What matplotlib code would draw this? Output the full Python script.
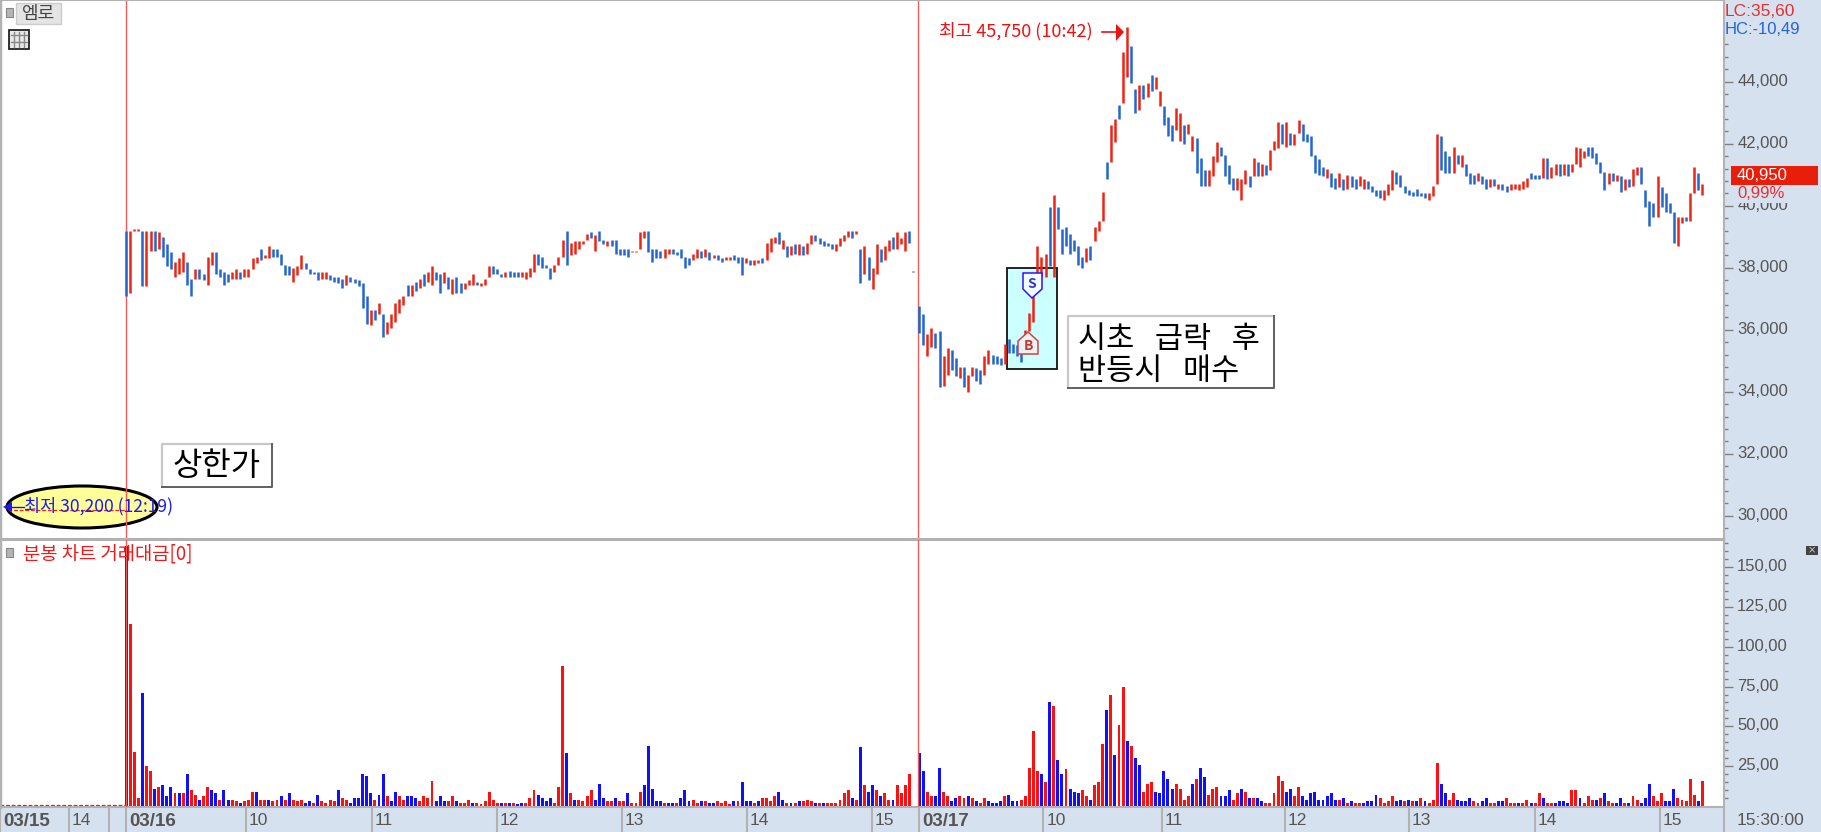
import matplotlib
matplotlib.use("Agg")
import matplotlib.pyplot as plt
import matplotlib.transforms as mtransforms
from matplotlib.patches import Rectangle, Ellipse, Polygon
import numpy as np

plt.rcParams['font.family'] = ['Noto Sans CJK KR', 'DejaVu Sans']

# 03/16 price bars
day1_high = [39200,39200,39250,39250,39200,39200,39200,39200,39150,39000,
             38750,38500,38200,38300,38500,38200,37650,37950,37950,37800,
             38350,38500,38500,37950,37850,37800,37850,37950,37850,37950,
             37950,38300,38350,38600,38400,38700,38600,38600,38450,38100,
             38050,38000,38050,38400,38150,37950,37850,37850,37850,37850,
             37750,37700,37700,37650,37750,37700,37650,37600,37500,37100,
             36650,36650,36850,36500,36250,36500,36850,37000,37100,37450,
             37450,37550,37650,37800,37850,38050,37850,37800,37850,37700,
             37650,37700,37500,37500,37600,37800,37550,37500,37650,38050,
             38050,37950,37800,37850,37900,37850,37850,37850,37850,38000,
             38450,38450,38350,38100,38000,38100,38350,38900,39200,38800,
             38850,38850,38850,39100,39150,39050,39200,38900,38850,38900,
             38900,38600,38600,38600,38550,38550,39150,39200,39200,38600,
             38600,38550,38600,38600,38600,38500,38600,38350,38300,38450,
             38600,38550,38600,38500,38400,38400,38300,38350,38350,38400,
             38350,38350,38300,38250,38250,38250,38300,38800,38950,39000,
             39150,38900,38700,38700,38750,38750,38700,38800,39050,39050,
             38950,38850,38800,38750,38750,38950,39050,39200,39200,39200,
             38600,38700,38350,38000,38750,38600,38700,38900,39000,39150,
             38950,39150,39200,37900]
day1_low = [37100,37200,39200,39200,37400,37400,38550,38550,38600,38350,
            38050,37950,37700,37800,37850,37450,37100,37650,37650,37600,
            37450,38100,37800,37700,37450,37550,37650,37650,37650,37700,
            37700,37950,38150,38250,38300,38300,38350,38350,38100,37750,
            37750,37550,37750,37950,37950,37800,37800,37600,37650,37650,
            37600,37550,37500,37350,37450,37550,37500,37400,36700,36200,
            36150,36300,36500,35750,35850,36050,36250,36550,36800,37100,
            37100,37250,37350,37400,37550,37450,37600,37200,37500,37300,
            37150,37200,37200,37300,37450,37450,37450,37400,37450,37700,
            37800,37800,37700,37700,37700,37700,37700,37700,37650,37700,
            37850,38100,38000,38000,37650,37850,38100,38350,38100,38400,
            38450,38600,38750,38900,38950,38550,38850,38750,38700,38700,
            38450,38400,38400,38350,38500,38500,38600,38950,38500,38200,
            38300,38300,38300,38450,38450,38400,38300,38000,38100,38250,
            38300,38300,38350,38250,38300,38250,38200,38250,38250,38250,
            38150,37750,38150,38100,38100,38150,38150,38250,38500,38800,
            38750,38600,38350,38400,38450,38400,38400,38450,38750,38850,
            38750,38700,38700,38600,38550,38700,38850,39000,38950,39100,
            37500,37800,37600,37300,37800,38200,38250,38550,38600,38600,
            38750,38550,38800,37850]
day1_dir = ("brrrbrrbrb" "bbrrrbbrbb" "rrbbbbrrbr" "rrrbrrbbbb" "brrrbbbbrr"
            "bbbbrbbbbb" "rbrbrrrrrb" "rbrbrrbbrb" "rbbrrrbrrr" "bbbrbbbrrr"
            "rbbbbrrrbr" "rrrrbrbbrb" "bbbbrrrrbb" "bbrrbbbbbr" "rbrbrbbrrb"
            "bbrbrrbrrr" "brbrbrbrrb" "bbbbrrrrbr" "brbrrbrrbr" "rrbb")

# 03/17 price bars
day2_high = [36750,36500,35850,36050,35900,35950,35150,35400,35350,35100,
             34800,34800,34550,34800,34750,34700,35150,35350,35200,35150,
             35100,35550,35700,35550,35500,35400,36000,36550,37700,38700,
             38350,38450,39950,40350,39950,39250,39300,39100,38900,38700,
             38350,38650,38700,39300,39500,40450,41400,42600,42800,43250,
             44950,45750,45150,43750,43900,43900,43950,44200,44150,43700,
             43200,42850,42600,43150,43000,42600,42650,42250,42200,41550,
             41150,41150,41600,42050,41900,41650,41300,40900,40900,40850,
             41150,40950,41550,41400,41350,41300,41800,42100,42700,42650,
             42700,42350,42300,42750,42650,42300,42250,41650,41500,41250,
             41200,41050,40900,41050,40850,41000,40950,40850,40950,40850,
             40800,40650,40500,40500,40500,40700,41150,41100,41000,40650,
             40500,40450,40550,40400,40400,40400,40650,42300,42250,41750,
             41600,41900,41650,41650,41350,41050,41000,41050,40950,40850,
             40850,40850,40700,40700,40650,40700,40700,40700,40800,40900,
             41050,41000,41000,41550,41550,41250,41350,41350,41350,41350,
             41350,41900,41850,41750,41900,41900,41700,41400,41100,41050,
             41050,41000,40950,40850,40850,41200,41250,41250,40500,40150,
             40100,40950,40600,40400,40100,39800,39650,39650,39650,40400,
             41250,41050,40700]
day2_low = [35900,35500,35150,35450,35400,34150,34200,34550,34700,34500,
            34450,34150,34000,34500,34350,34250,34550,34900,34900,34900,
            34850,34900,35250,35250,35150,34950,35500,35950,36250,37700,
            37700,37700,38050,37700,39250,38450,38700,38450,38550,38100,
            38000,38200,38250,38850,39200,39500,40850,41400,42050,42800,
            43300,44150,43950,43000,43100,43450,43500,43700,43750,43200,
            42600,42250,42100,42450,42100,42000,42300,41750,41050,40650,
            40650,40650,40950,41400,41600,40950,40700,40500,40500,40200,
            40700,40600,40950,40950,40950,41000,41150,41800,41850,42000,
            41900,41950,41950,42350,42100,42050,41600,41050,41000,40950,
            40900,40600,40550,40600,40500,40550,40600,40550,40650,40550,
            40550,40450,40300,40250,40200,40350,40500,40700,40600,40400,
            40350,40300,40300,40300,40250,40200,40300,40700,41150,41050,
            41050,41050,41350,41250,40950,40700,40700,40800,40700,40550,
            40600,40650,40550,40500,40450,40500,40550,40500,40550,40600,
            40850,40850,40850,40900,40850,40900,41000,40950,41000,40950,
            41100,41350,41250,41550,41600,41550,41350,41050,40500,40700,
            40800,40800,40450,40500,40600,40650,41000,40700,39950,39350,
            39650,39650,39950,39800,39750,38800,38700,39450,39500,39500,
            40400,40500,40350]
day2_dir = ("bbrrbbrrbb" "rbrrbbrrbb" "brbbbbrrrr" "rrbrbbbbbb" "brbrrrbrrb"
            "rrbbrbrbrr" "bbbrrbrrbb" "brrrbbbbrr" "rbrbrbrrrb" "rbrrbbbbbb"
            "rbbrbrbbrr" "bbbbrrrbbb" "bbbbbrrrbb" "brbrbbbrbb" "rbrbbrrrrr"
            "bbbrbrrbrb" "rrrrbbbbbr" "brbrbrrbbb" "brbbbbrrbr" "rbr")

# traded value per bar
day1_vol = [163,114,34,5,71,25,22,11,12,13,
            6,12,8,8,8,20,10,7,4,6,
            12,10,8,4,10,4,4,3,2,3,
            4,9,9,4,4,4,3,4,6,4,
            8,4,3,4,2,3,2,7,3,2,
            4,3,10,5,4,2,5,5,20,19,
            8,4,7,20,6,3,9,6,4,6,
            6,5,3,6,5,16,3,6,3,3,
            6,3,2,2,4,2,2,1,3,9,
            4,2,2,2,2,2,1,2,2,5,
            10,7,5,3,5,2,12,88,33,8,
            4,4,3,6,10,4,14,5,3,3,
            5,3,3,8,2,2,9,13,38,11,
            3,3,2,2,2,2,5,10,3,4,
            2,3,3,2,2,3,2,3,1,3,
            3,15,3,3,2,3,5,5,3,6,
            9,4,2,2,2,3,3,4,3,2,
            2,2,2,2,2,4,8,10,5,4,
            37,13,9,13,10,6,8,4,4,13,
            8,13,20]
day1_vol_dir = ("brrrbrrbrb" "bbrbrbrrbr" "rbbrbbrrbr" "rrbrrbrrbr" "brrrbbrbrr"
                "rrbrrbbbbb" "brbbrbbrrb" "bbrrrrbbbr" "rbrrrbrrrr" "rrbrbrbbrr"
                "rbbbbrrrbr" "brrrrbbbrr" "brrbrrrbbb" "bbrbbrbbbr" "rbrbbrrrrb"
                "rbbbrbrrrr" "bbrbrbrrrb" "rbrrrrrrbr" "brbbrbrrbr" "rrr")
day2_vol = [33,22,9,6,6,24,9,6,3,5,
            6,5,6,5,3,2,5,3,2,2,
            3,6,7,3,3,4,6,24,47,22,
            20,15,65,63,29,20,23,11,9,8,
            10,6,4,13,15,39,60,70,32,51,
            75,41,38,30,26,9,14,15,9,8,
            22,17,11,14,11,4,6,14,17,24,
            18,7,11,12,6,6,10,4,8,11,
            9,5,5,5,3,2,2,8,19,16,
            9,11,6,12,6,4,8,9,4,4,
            6,8,4,4,5,2,3,2,2,2,
            3,3,7,5,2,3,6,3,4,3,
            4,3,3,5,3,2,4,27,14,8,
            4,8,4,3,3,5,3,2,3,5,
            2,2,3,3,5,2,2,2,2,4,
            2,2,8,5,2,2,2,3,3,2,
            10,10,5,2,6,4,4,5,8,3,
            2,2,5,2,2,6,4,2,5,14,
            6,3,8,3,3,11,5,4,3,17,
            7,3,16]
day2_vol_dir = ("bbrrbbrrbb" "rrbrbrrbbb" "brbbbrrrrr" "brbrbbrbbb" "rrbrrrbrbr"
                "rbrbbrrrbb" "bbbrrrrbrb" "brrrbbbrrb" "rbrbbrrrrr" "bbrrbbbbbb"
                "bbbrbrbrrb" "bbbrrrrbbr" "brbrbrrrbb" "rrbbbbrrbb" "rrbbrrrbrr"
                "brrbrrbbbb" "rrbrrrbrbr" "rbbrbrrbbb" "rrrbbbrrrr" "rbr")

price_ticks = [30000,32000,34000,36000,38000,40000,42000,44000]
vol_ticks = [25,50,75,100,125,150]
vol_tick_labels = ["25,00","50,00","75,00","100,00","125,00","150,00"]
time_ticks = [-30.9,-14,-4.2,0,29.4,60.3,90.9,121.6,152.2,182.8,194.4,224.8,253.9,284.1,314.5,345.3,376,391.7]
time_labels = ["03/15","14","","03/16","10","11","12","13","14","15","03/17","10","11","12","13","14","15","15:30:00"]
day2_start = 194.4
low_price = 30200
last_price = "40,950"

RED, BLUE = "#EE2412", "#2365D2"
VRED, VBLUE = "#FF1010", "#1010FF"
PANEL = "#D6E1EF"
GRAY = "#B2B2B2"
TXT = "#555555"
W, H = 1821, 832

fig = plt.figure(figsize=(W/100, H/100), dpi=100, facecolor=PANEL)
# pixel coords, y going down
px = mtransforms.Affine2D().scale(1, -1).translate(0, H)

ax1 = fig.add_axes([0, (H-539)/H, 1724/W, 539/H])
ax2 = fig.add_axes([0, (H-807)/H, 1724/W, 267/H])
for ax in (ax1, ax2):
    ax.set_xlim(-30.9, 391.7)
    for s in ax.spines.values():
        s.set_color(GRAY)
        s.set_linewidth(1.5)
    ax.spines["left"].set_linewidth(2.5)
ax1.set_ylim(29250, 46635)
ax2.set_ylim(-0.6, 167)

dirs = {"r": RED, "b": BLUE}
vdirs = {"r": VRED, "b": VBLUE}
for start, hi, lo, d, vol, vd in [(0, day1_high, day1_low, day1_dir, day1_vol, day1_vol_dir),
                                  (day2_start, day2_high, day2_low, day2_dir, day2_vol, day2_vol_dir)]:
    n = min(len(hi), len(lo), len(d))
    x = start + np.arange(n)
    ax1.vlines(x, lo[:n], hi[:n], colors=[dirs[c] for c in d[:n]], linewidth=1.8, zorder=3)
    n = min(len(vol), len(vd))
    x = start + np.arange(n)
    ax2.bar(x, vol[:n], width=0.72, color=[vdirs[c] for c in vd[:n]], linewidth=0, zorder=2)

# session dividers
for x0 in (0, day2_start - 0.2):
    ax1.axvline(x0, color="#F05A5A", lw=1.0, zorder=2)
    ax2.axvline(x0, color="#F05A5A", lw=1.0, zorder=3)
ax2.hlines(0.9, -30.9, 0, colors=VRED, linestyles=(0, (3, 1.5)), lw=0.9)

# axes, ticks
ax1.yaxis.tick_right()
ax1.set_xticks([])
ax1.set_yticks(price_ticks)
ax1.set_yticklabels([f"{v:,}" for v in price_ticks], family="Liberation Sans", fontsize=12, color=TXT)
ax1.set_yticks([v for v in range(29600, 45400, 400) if v not in price_ticks], minor=True)
ax1.tick_params(axis="y", which="major", length=6.5, width=1, color="#808080", pad=3)
ax1.tick_params(axis="y", which="minor", length=3, width=1, color="#808080")

ax2.yaxis.tick_right()
ax2.set_yticks(vol_ticks)
ax2.set_yticklabels(vol_tick_labels, family="Liberation Sans", fontsize=12, color=TXT)
ax2.set_yticks([v for v in range(5, 166, 5) if v not in vol_ticks], minor=True)
ax2.tick_params(axis="y", which="major", length=6.5, width=1, color="#808080", pad=3)
ax2.tick_params(axis="y", which="minor", length=3, width=1, color="#808080")

# labels sit a little higher than their ticks
up = mtransforms.ScaledTranslation(0, 2/100, fig.dpi_scale_trans)
for lab in ax1.get_yticklabels() + ax2.get_yticklabels():
    lab.set_transform(lab.get_transform() + up)

ax2.set_xticks(time_ticks)
ax2.set_xticklabels(time_labels, family="Liberation Sans", fontsize=12.5, color=TXT, ha="left")
ax2.tick_params(axis="x", length=18, width=1.5, color=GRAY, pad=-13.5)
offset = mtransforms.ScaledTranslation(3/100, 0, fig.dpi_scale_trans)
for lab in ax2.get_xticklabels():
    lab.set_transform(lab.get_transform() + offset)
    if "/" in lab.get_text():
        lab.set_fontweight("bold")
        lab.set_fontsize(13.5)
    if ":" in lab.get_text():
        lab.set_transform(lab.get_transform() + mtransforms.ScaledTranslation(10/100, 0, fig.dpi_scale_trans))


def ptext(x, y, s, **kw):
    kw.setdefault("va", "center")
    fig.text(x, y, s, transform=px, **kw)


def button(x0, y0, x1, y1):
    # raised white box
    fig.add_artist(Rectangle((x0, y0), x1-x0, y1-y0, transform=px, fc="white", ec="none", zorder=4))
    fig.add_artist(plt.Line2D([x0, x0, x1], [y1, y0, y0], transform=px, color="#C8C8C8", lw=1.6, zorder=4))
    fig.add_artist(plt.Line2D([x0, x1, x1], [y1, y1, y0], transform=px, color="#606060", lw=1.4, zorder=4))


# low marker
ax1.add_patch(Ellipse((82, 507), 150, 42, transform=px, fc="#FFFF99", ec="black", lw=2.2, zorder=1, clip_on=False))
ax1.hlines(low_price, -29, 0, colors="#F02020", linestyles=(0, (3, 1.5)), lw=0.9, zorder=1.5)
ptext(24, 506, "최저 30,200 (12:19)", color="#1A1AF0", fontsize=12.6, zorder=5)
fig.add_artist(plt.Line2D([5, 24], [507, 507], transform=px, color="#1A1AF0", lw=1, zorder=5))
fig.add_artist(Polygon([[3, 507], [12, 502], [12, 512]], transform=px, fc="#1A1AF0", ec="none", zorder=5))

# peak marker
ptext(939, 31, "최고 45,750 (10:42)", color="#F01010", fontsize=13, zorder=5)
fig.add_artist(plt.Line2D([1102, 1118], [32, 32], transform=px, color="#F01010", lw=1.2, zorder=5))
fig.add_artist(Polygon([[1124, 32], [1116, 24], [1116, 41]], transform=px, fc="#F01010", ec="none", zorder=5))

# buy/sell box
ax1.add_patch(Rectangle((1007, 268), 50, 101, transform=px, fc="#CCFFFF", ec="#222222", lw=1.4, zorder=1, clip_on=False))
ax1.add_patch(Polygon([[1028, 332], [1038, 341], [1038, 354], [1018, 354], [1018, 341]], transform=px,
                      fc="#E8F4F4", ec="#CC4444", lw=1.1, zorder=4, clip_on=False))
ptext(1028, 346, "B", color="#CC3333", fontsize=10, fontweight="bold", ha="center", zorder=5)
ax1.add_patch(Polygon([[1023, 273], [1042, 273], [1042, 289], [1032, 298], [1023, 289]], transform=px,
                      fc="#F0FFFF", ec="#3310FF", lw=1.1, zorder=4, clip_on=False))
ptext(1032, 284, "S", color="#3A30D0", fontsize=10, fontweight="bold", ha="center", zorder=5)

# note boxes
button(162, 444, 272, 487)
ptext(217, 466, "상한가", color="black", fontsize=23, ha="center", zorder=5)
button(1068, 316, 1274, 388)
ptext(1078, 340, "시초   급락   후", color="black", fontsize=22, zorder=5)
ptext(1078, 371, "반등시   매수", color="black", fontsize=22, zorder=5)

# top-left widgets
for y0 in (8, 548):
    fig.add_artist(Rectangle((6, y0), 7, 9, transform=px, fc="#B4B4B4", ec="#888888", lw=0.8, zorder=4))
fig.add_artist(Rectangle((16, 3), 45, 21, transform=px, fc="#E4E4E4", ec="#CCCCCC", lw=1, zorder=4))
ptext(39, 14, "엠로", color="#444444", fontsize=13, ha="center", zorder=5)
fig.add_artist(Rectangle((9, 30), 20, 19, transform=px, fc="#E8E8E8", ec="#222222", lw=1.3, zorder=4))
for xx in (14, 19, 24):
    fig.add_artist(plt.Line2D([xx, xx], [32, 47], transform=px, color="#888888", lw=1, zorder=5))
for yy in (35, 42):
    fig.add_artist(plt.Line2D([11, 27], [yy, yy], transform=px, color="#888888", lw=1, zorder=5))
ptext(23, 554, "분봉 차트 거래대금[0]", color="#F01818", fontsize=13.5, zorder=5)
fig.add_artist(Rectangle((1806, 546), 12, 9, transform=px, fc="#444444", ec="none", zorder=4))
ptext(1812, 550, "×", color="white", fontsize=6, ha="center", zorder=5)

# right side readouts
ptext(1725, 12, "LC:35,60", color="#E83030", family="Liberation Sans", fontsize=12.5)
ptext(1725, 29, "HC:-10,49", color="#2365D2", family="Liberation Sans", fontsize=12)
fig.add_artist(Rectangle((1731, 185), 87, 18, transform=px, fc=PANEL, ec="none", zorder=4))
fig.add_artist(Rectangle((1731, 166), 87, 19, transform=px, fc="#E81E0A", ec="none", zorder=4))
ptext(1737, 175.5, last_price, color="white", family="Liberation Sans", fontsize=12, zorder=5)
ptext(1737, 193, "0,99%", color="#E83030", family="Liberation Sans", fontsize=12, zorder=5)

fig.savefig("out.png", dpi=100, facecolor=PANEL)
